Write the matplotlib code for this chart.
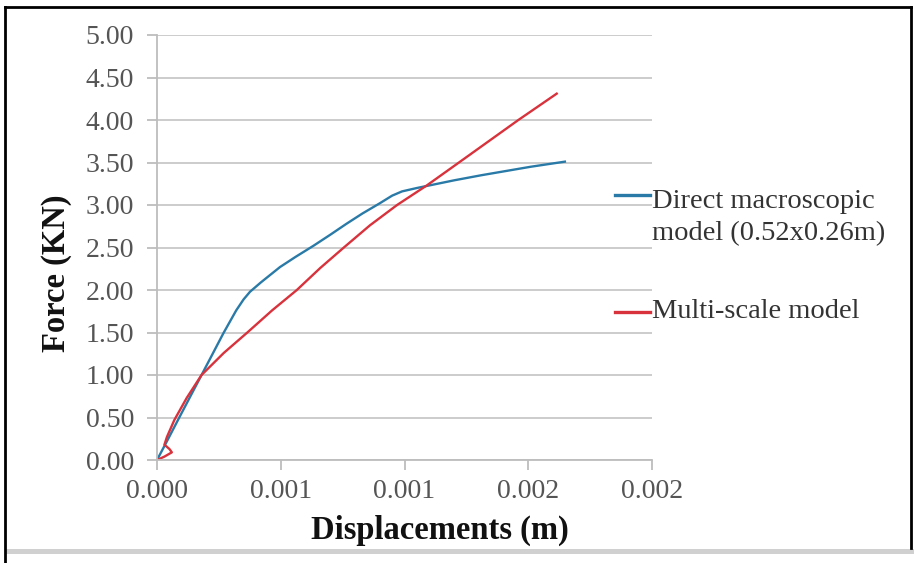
import matplotlib
matplotlib.use("Agg")
import matplotlib.pyplot as plt
from matplotlib.patches import Rectangle
from matplotlib.lines import Line2D

# Force-displacement curves
direct_x = [0, 0.00004, 0.00009, 0.00018, 0.000225, 0.000268, 0.00032, 0.00035,
            0.000376, 0.00042, 0.000497, 0.00056, 0.000632, 0.0007, 0.000766,
            0.00083, 0.0009, 0.00095, 0.00099, 0.00105, 0.0011, 0.0012, 0.00131,
            0.00141, 0.00151, 0.001648]
direct_y = [0, 0.22, 0.5, 1.0, 1.25, 1.49, 1.76, 1.89, 1.98, 2.09, 2.27, 2.39,
            2.52, 2.65, 2.78, 2.90, 3.02, 3.11, 3.16, 3.20, 3.23, 3.29, 3.35,
            3.40, 3.45, 3.51]

multi_x = [0, 0.00003, 0.00006, 0.00005, 0.00003, 0.00004, 0.00007, 0.00012,
           0.00018, 0.00027, 0.000365, 0.000465, 0.000565, 0.00066, 0.000755,
           0.00086, 0.00097, 0.00109, 0.00122, 0.00146, 0.001615]
multi_y = [0, 0.04, 0.09, 0.13, 0.18, 0.27, 0.47, 0.73, 1.0, 1.26, 1.5, 1.76,
           2.0, 2.26, 2.5, 2.76, 3.0, 3.23, 3.5, 4.0, 4.31]

x_ticks = [0, 0.0005, 0.001, 0.0015, 0.002]
x_tick_labels = ["0.000", "0.001", "0.001", "0.002", "0.002"]
y_ticks = [0, 0.5, 1.0, 1.5, 2.0, 2.5, 3.0, 3.5, 4.0, 4.5, 5.0]
y_tick_labels = ["%.2f" % v for v in y_ticks]

series_lines = [["Direct macroscopic", "model (0.52x0.26m)"], ["Multi-scale model"]]
series_colors = ["#2a7aa8", "#d8323c"]

plt.rcParams["font.family"] = ["Liberation Serif", "DejaVu Serif"]

W, H = 914, 563
fig = plt.figure(figsize=(W / 100, H / 100), dpi=100)
ax = fig.add_axes([157 / W, 1 - 460 / H, (652 - 157) / W, (460 - 35) / H])

ax.plot(direct_x, direct_y, color=series_colors[0], lw=1.7, solid_joinstyle="round")
ax.plot(multi_x, multi_y, color=series_colors[1], lw=1.7, solid_joinstyle="round")

ax.set_xlim(0, 0.002)
ax.set_ylim(0, 5.0)
ax.set_xticks(x_ticks)
ax.set_xticklabels(x_tick_labels)
ax.set_yticks(y_ticks)
ax.set_yticklabels(y_tick_labels)

grid_color = "#c8c8c8"
ax.yaxis.grid(True, color=grid_color, lw=1.3)
ax.set_axisbelow(True)
for side in ("top", "right"):
    ax.spines[side].set_visible(False)
for side in ("left", "bottom"):
    ax.spines[side].set_color("#bdbdbd")
    ax.spines[side].set_linewidth(1.3)

ax.tick_params(axis="both", colors="#bdbdbd", length=7.5, width=1.3,
               labelsize=20, labelcolor="#555555")
ax.tick_params(axis="y", pad=9)
ax.tick_params(axis="x", pad=6)

ax.set_xlabel("Displacements (m)", fontsize=23.5, fontweight="bold", color="#111111")
ax.set_ylabel("Force (KN)", fontsize=23.5, fontweight="bold", color="#111111")
ax.xaxis.set_label_coords((440 - 157) / 495, (460 - 530) / 425)
ax.xaxis.label.set_va("center")
ax.yaxis.set_label_coords((57 - 157) / 495, (460 - 273) / 425)
ax.yaxis.label.set_va("center")
ax.yaxis.label.set_ha("center")

# Legend to the right of the plot area (figure pixel positions)
legend_marks = [195, 312]
legend_baselines = [[208, 240], [318]]
for i, (ym, rows) in enumerate(zip(legend_marks, legend_baselines)):
    fig.add_artist(Line2D([615 / W, 650 / W], [1 - ym / H, 1 - ym / H],
                          color=series_colors[i], lw=2.4))
    for text, yb in zip(series_lines[i], rows):
        fig.text(652 / W, 1 - yb / H, text, fontsize=20.5, color="#333333",
                 va="baseline", ha="left")

# Frame around the figure
fig.add_artist(Line2D([5 / W, 911 / W], [1 - 7 / H, 1 - 7 / H], color="black", lw=2))
fig.add_artist(Line2D([5 / W, 5 / W], [1 - 7 / H, 0], color="black", lw=2))
fig.add_artist(Line2D([911 / W, 911 / W], [1 - 7 / H, 1 - 548 / H], color="black", lw=2))
fig.add_artist(Rectangle((5 / W, 1 - 554 / H), 1, 5 / H, transform=fig.transFigure,
                         color="#d0d0d0", lw=0))

fig.savefig("out.png", dpi=100)
